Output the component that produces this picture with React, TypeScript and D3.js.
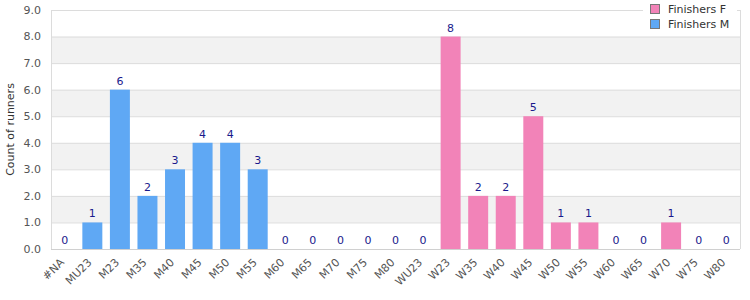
import React from "react";
import * as d3 from "d3";

const categories = ["#NA","MU23","M23","M35","M40","M45","M50","M55","M60","M65","M70","M75","M80","WU23","W23","W35","W40","W45","W50","W55","W60","W65","W70","W75","W80"];
const finishersM = [0,1,6,2,3,4,4,3,0,0,0,0,0,0,null,null,null,null,null,null,null,null,null,null,null];
const finishersF = [null,null,null,null,null,null,null,null,null,null,null,null,null,null,8,2,2,5,1,1,0,0,1,0,0];
const yTicks = [0,1,2,3,4,5,6,7,8,9];

const W = 750, H = 300;
const M = { left: 51, right: 10, top: 10, bottom: 51 };
const blue = "#5fa8f4";
const pink = "#f283b8";
const font = "DejaVu Sans, sans-serif";

export default function App() {
  const x = d3.scaleBand<string>().domain(categories).range([M.left, W - M.right]).paddingInner(0.275).paddingOuter(0.1375);
  const xc = d3.scaleBand<string>().domain(categories).range([M.left, W - M.right]);
  const y = d3.scaleLinear().domain([0, 9]).range([H - M.bottom, M.top]);
  const fmt = d3.format(".1f");
  const values = categories.map((c, i) => ({ c, m: finishersM[i], f: finishersF[i] }));
  return (
    <svg width={W} height={H} style={{ position: "absolute", left: 0, top: 0, fontFamily: font }}>
      <rect x={0} y={0} width={W} height={H} fill="#fff" />
      {yTicks.slice(0, -1).map((t) => (
        <rect key={"b" + t} x={M.left} y={y(t + 1)} width={W - M.right - M.left} height={y(t) - y(t + 1)} fill={t % 2 === 1 ? "#f2f2f2" : "#fff"} />
      ))}
      {yTicks.map((t) => (
        <g key={"t" + t}>
          <line x1={M.left} x2={W - M.right} y1={y(t) + 0.5} y2={y(t) + 0.5} stroke="#dcdcdc" />
          <text x={M.left - 10} y={y(t)} dy="0.35em" textAnchor="end" fontSize={11} fill="#555">{fmt(t)}</text>
        </g>
      ))}
      <line x1={M.left + 0.5} x2={M.left + 0.5} y1={M.top} y2={H - M.bottom} stroke="#dcdcdc" />
      <line x1={W - M.right + 0.5} x2={W - M.right + 0.5} y1={M.top} y2={H - M.bottom} stroke="#dcdcdc" />
      {values.map((d) => {
        const v = d.m != null ? d.m : d.f;
        const col = d.m != null ? blue : pink;
        const bx = x(d.c)!;
        const bw = x.bandwidth();
        return (
          <g key={d.c}>
            {v! > 0 && <rect x={bx} y={y(v!)} width={bw} height={y(0) - y(v!)} fill={col} />}
            <text x={bx + bw / 2} y={y(v!) - 5} textAnchor="middle" fontSize={11} fill="#1a1a8c">{v}</text>
          </g>
        );
      })}
      <line x1={M.left} x2={W - M.right} y1={y(0) + 0.5} y2={y(0) + 0.5} stroke="#d0d0d0" />
      {categories.map((c) => {
        const cx = xc(c)! + xc.bandwidth() / 2;
        const ty = H - M.bottom + 14;
        return (
          <text key={"x" + c} transform={`translate(${cx},${ty}) rotate(-45)`} textAnchor="end" fontSize={11} fill="#555">{c}</text>
        );
      })}
      <text transform={`translate(10,${(M.top + H - M.bottom) / 2}) rotate(-90)`} textAnchor="middle" dy="0.35em" fontSize={11} fill="#333">Count of runners</text>
      <g>
        <rect x={643} y={0} width={94} height={34} fill="#fff" />
        <rect x={650.5} y={4.5} width={9} height={9} fill={pink} stroke="#777" />
        <rect x={650.5} y={19.5} width={9} height={9} fill={blue} stroke="#777" />
        <text x={668} y={13} fontSize={11} fill="#333">Finishers F</text>
        <text x={668} y={28} fontSize={11} fill="#333">Finishers M</text>
      </g>
    </svg>
  );
}
